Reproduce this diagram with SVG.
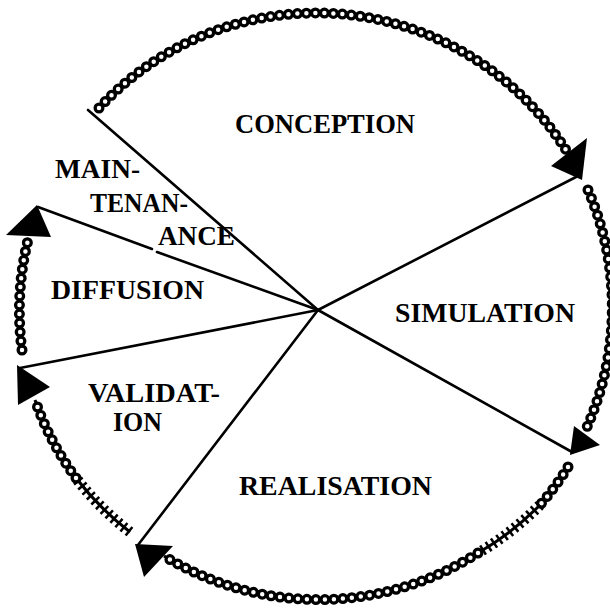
<svg xmlns="http://www.w3.org/2000/svg" xmlns:xlink="http://www.w3.org/1999/xlink" width="610" height="611" viewBox="0 0 610 611">
<style>
.bg{fill:#fff}
.radial{fill:none;stroke:#000;stroke-width:2.6;stroke-linecap:round}
.ring-c{fill:none;stroke:#000;stroke-width:3}
.ring-o{fill:none;stroke:#000;stroke-width:11;stroke-dasharray:0 9;stroke-linecap:round}
.ring-i{fill:none;stroke:#fff;stroke-width:4.5;stroke-dasharray:0 9;stroke-linecap:round}
.hatch-l{fill:none;stroke:#000;stroke-width:3}
.hatch-t{fill:none;stroke:#000;stroke-width:11;stroke-dasharray:2.5 4}
.head{fill:#000}
.lbl{font-family:"Liberation Serif","Times New Roman",serif;font-weight:bold;font-size:27px;fill:#000}
</style>
<defs>
<path id="a1" d="M99,108 A296,296 0 0 1 566,150"/>
<path id="a2" d="M588,190 A296,296 0 0 1 587,427"/>
<path id="a3a" d="M568,467 A296,296 0 0 1 540,505"/>
<path id="a3b" d="M540,505 A296,296 0 0 1 478,553"/>
<path id="a3c" d="M478,553 A296,296 0 0 1 164,556"/>
<path id="a4a" d="M130,532 A292,292 0 0 1 76,478"/>
<path id="a4b" d="M76,478 A292,292 0 0 1 35,400"/>
<path id="a5" d="M22,350 A295,295 0 0 1 28,240"/>
</defs>
<rect class="bg" x="0" y="0" width="610" height="611"/>
<g id="cycle-arcs">
<use xlink:href="#a1" class="ring-c"/><use xlink:href="#a1" class="ring-o"/><use xlink:href="#a1" class="ring-i"/>
<use xlink:href="#a2" class="ring-c"/><use xlink:href="#a2" class="ring-o"/><use xlink:href="#a2" class="ring-i"/>
<use xlink:href="#a3a" class="ring-c"/><use xlink:href="#a3a" class="ring-o"/><use xlink:href="#a3a" class="ring-i"/>
<use xlink:href="#a3b" class="hatch-l"/><use xlink:href="#a3b" class="hatch-t"/>
<use xlink:href="#a3c" class="ring-c"/><use xlink:href="#a3c" class="ring-o"/><use xlink:href="#a3c" class="ring-i"/>
<use xlink:href="#a4a" class="hatch-l"/><use xlink:href="#a4a" class="hatch-t"/>
<use xlink:href="#a4b" class="ring-c"/><use xlink:href="#a4b" class="ring-o"/><use xlink:href="#a4b" class="ring-i"/>
<use xlink:href="#a5" class="ring-c"/><use xlink:href="#a5" class="ring-o"/><use xlink:href="#a5" class="ring-i"/>
</g>
<g id="connectors">
<path class="radial" d="M318,310 L88,110"/>
<path class="radial" d="M318,310 L576,177"/>
<path class="radial" d="M318,310 L572,452"/>
<path class="radial" d="M318,310 L138,545"/>
<path class="radial" d="M318,310 L20,368"/>
<path class="radial" d="M318,310 L157,252"/>
<path class="radial" d="M152,249 L38,207"/>
<polygon class="head" points="551,166 587,138 582,180"/>
<polygon class="head" points="574,426 600,445 570,455"/>
<polygon class="head" points="135,544 173,546 144,577"/>
<polygon class="head" points="17,365 50,387 18,405"/>
<polygon class="head" points="37,205 51,237 6,235"/>
</g>
<g id="conception"><text class="lbl" x="235" y="133" textLength="180" lengthAdjust="spacingAndGlyphs">CONCEPTION</text></g>
<g id="simulation"><text class="lbl" x="395" y="322" textLength="180" lengthAdjust="spacingAndGlyphs">SIMULATION</text></g>
<g id="realisation"><text class="lbl" x="239" y="495" textLength="193" lengthAdjust="spacingAndGlyphs">REALISATION</text></g>
<g id="validation"><text class="lbl" x="88" y="402" textLength="132" lengthAdjust="spacingAndGlyphs">VALIDAT-</text><text class="lbl" x="113" y="431" textLength="49" lengthAdjust="spacingAndGlyphs">ION</text></g>
<g id="diffusion"><text class="lbl" x="51" y="299" textLength="153" lengthAdjust="spacingAndGlyphs">DIFFUSION</text></g>
<g id="maintenance"><text class="lbl" x="55" y="178" textLength="85" lengthAdjust="spacingAndGlyphs">MAIN-</text><text class="lbl" x="90" y="212" textLength="98" lengthAdjust="spacingAndGlyphs">TENAN-</text><text class="lbl" x="158" y="245" textLength="77" lengthAdjust="spacingAndGlyphs">ANCE</text></g>
</svg>
